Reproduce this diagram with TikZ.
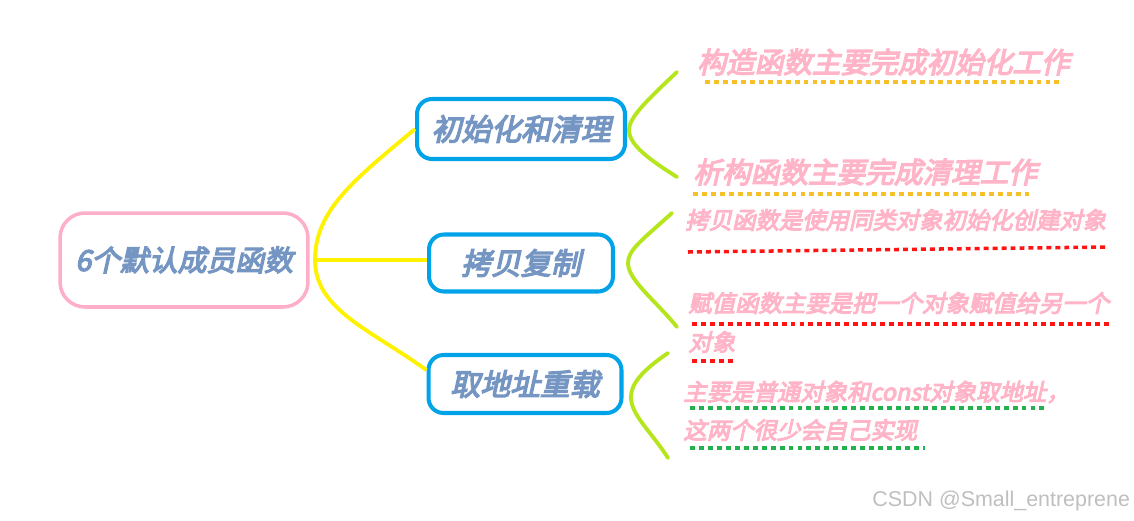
\documentclass[tikz,border=0pt]{standalone}
\usepackage{fontspec}
\setsansfont{Liberation Sans}
\newfontfamily\cjk[FakeSlant=0.22,FakeBold=4.5]{Noto Sans CJK SC}
\usetikzlibrary{calc}

\definecolor{rootpink}{RGB}{255,174,201}
\definecolor{tblue}{RGB}{117,150,195}
\definecolor{boxblue}{RGB}{0,162,232}
\definecolor{lineyellow}{RGB}{255,242,0}
\definecolor{bracegreen}{RGB}{181,230,29}
\definecolor{notepink}{RGB}{255,180,200}
\definecolor{dashorange}{RGB}{245,192,40}
\definecolor{dashred}{RGB}{255,20,20}
\definecolor{dashgreen}{RGB}{34,177,76}

\begin{document}
\begin{tikzpicture}[
  x=0.02cm,
  y=-0.02cm,
  rootbox/.style={draw=rootpink, line width=2pt, rounded corners=0.5cm, minimum width=4.96cm, minimum height=1.88cm, text=tblue, font=\cjk\fontsize{16.4}{18}\selectfont},
  topic/.style={draw=boxblue, line width=2.3pt, rounded corners=0.3cm, minimum height=1.16cm, text=tblue, font=\cjk\fontsize{17}{20}\selectfont},
  branch/.style={draw=lineyellow, line width=2.2pt},
  brace/.style={draw=bracegreen, line width=2.2pt, line cap=round},
  note/.style={anchor=west, inner sep=0pt, text=notepink, font=\cjk\fontsize{13.3}{15}\selectfont},
  bignote/.style={note, font=\cjk\fontsize{16.3}{18}\selectfont},
  uline/.style={line width=2pt, dash pattern=on 2.8pt off 2.3pt}
  ]
    \useasboundingbox (0,0) rectangle (1134,521);

    % root and topics
    \node[rootbox] (root) at (184,260) {6个默认成员函数};
    \node[topic, minimum width=4.16cm, minimum height=1.2cm] (init) at (521,129) {初始化和清理};
    \node[topic, minimum width=3.68cm, minimum height=1.14cm] (copy) at (521,263) {拷贝复制};
    \node[topic, minimum width=3.86cm] (addr) at (525,384) {取地址重载};

    % yellow branches
    \draw[branch] ([xshift=3pt]root.east) .. controls +(0,-50) and +(-60,50) .. (init.west);
    \draw[branch] ([xshift=3pt]root.east) -- (root.east -| copy.west);
    \draw[branch] ([xshift=3pt]root.east) .. controls +(0,50) and +(-55,-40) .. (addr.172);

    % green brackets
    \draw[brace] (677,72) .. controls (645,102) and (629,118) .. (629,130) .. controls (629,145) and (650,160) .. (677,177);
    \draw[brace] (672,213) .. controls (642,240) and (628,250) .. (628,263) .. controls (628,280) and (655,300) .. (677,327);
    \draw[brace] (668,353) .. controls (640,372) and (631,385) .. (631,397) .. controls (631,415) and (650,430) .. (668,458);

%init
\node[bignote] (ctor) at (697,62) {构造函数主要完成初始化工作};
\node[bignote] (dtor) at (693,172) {析构函数主要完成清理工作};
\draw[uline, draw=dashorange] (705,82) -- (1063,82);
\draw[uline, draw=dashorange] (693,194) -- (1030,194);

%copy
\node[note] (cpy) at (685,220) {拷贝函数是使用同类对象初始化创建对象};
\node[note] (asg) at (688,303) {赋值函数主要是把一个对象赋值给另一个};
\node[note] (asgb) at (688,342) {对象};
\draw[uline, draw=dashred] (688,252) -- (1108,247);
\draw[uline, draw=dashred] (692,324) -- (1112,324);
\draw[uline, draw=dashred] (692,361) -- (733,361);

%addr
\node[note] (adr) at (683,392) {主要是普通对象和const对象取地址，};
\node[note] (adrb) at (683,430) {这两个很少会自己实现};
\draw[uline, draw=dashgreen] (690,408) -- (1045,408);
\draw[uline, draw=dashgreen] (690,448) -- (925,448);

%watermark
\node[anchor=west, inner sep=0pt, text=black!25, font=\sffamily\fontsize{12.2}{14}\selectfont] (mark) at (872,501) {CSDN @Small\_entreprene};

\end{tikzpicture}
\end{document}
